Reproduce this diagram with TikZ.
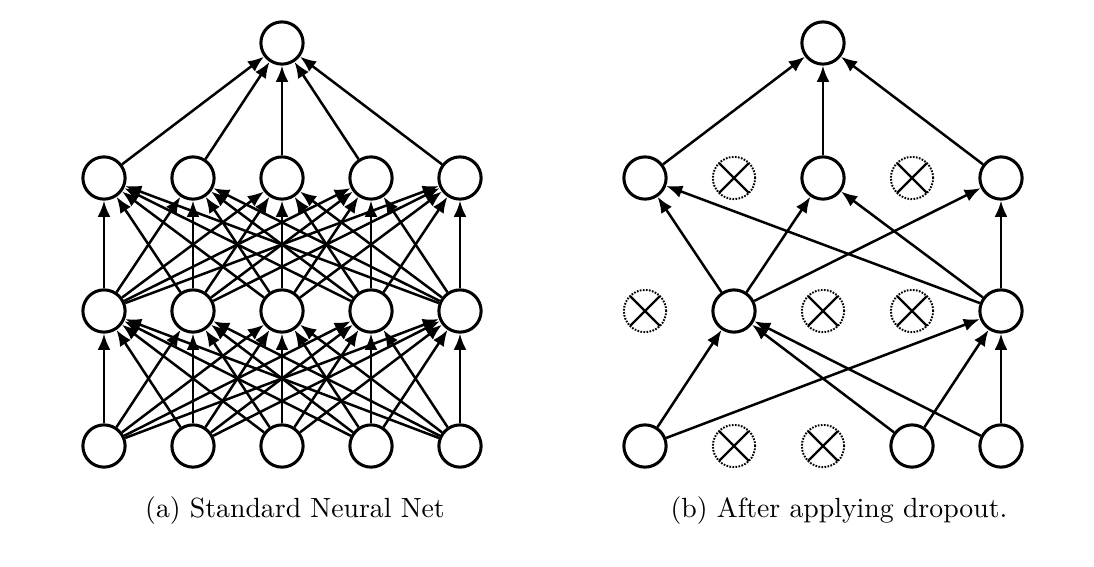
\documentclass[tikz,border=0pt]{standalone}
\usetikzlibrary{arrows.meta}

\begin{document}
\begin{tikzpicture}[x=0.36pt, y=-0.36pt,
    neuron/.style={circle, draw, line width=1.1pt, minimum size=15.2pt, inner sep=0pt, fill=white},
    dropped/.style={circle, draw, line width=0.7pt, dash pattern=on 0.6pt off 0.5pt,
        minimum size=15.2pt, inner sep=0pt, fill=white,
        path picture={
            \draw[solid, line width=0.85pt] (path picture bounding box.north west) -- (path picture bounding box.south east);
            \draw[solid, line width=0.85pt] (path picture bounding box.north east) -- (path picture bounding box.south west);
        }},
    conn/.style={-{Latex[length=5.8pt, width=4.6pt]}, line width=0.9pt}]

    \useasboundingbox (0,0) rectangle (1094,566);

    % --- (a) Standard net: all units kept ---
    \foreach \i/\x in {1/104,2/193,3/282,4/371,5/460} {
        \node[neuron] (a-in\i) at (\x,446) {};
        \node[neuron] (a-hA\i) at (\x,311) {};
        \node[neuron] (a-hB\i) at (\x,178) {};
    }
    \node[neuron] (a-out) at (282,43) {};

    % --- (a) fully connected layers ---
    \foreach \i in {1,...,5}
        \foreach \j in {1,...,5} {
            \draw[conn] (a-in\i) -- (a-hA\j);
            \draw[conn] (a-hA\i) -- (a-hB\j);
        }
    \foreach \i in {1,...,5}
        \draw[conn] (a-hB\i) -- (a-out);

    % --- (b) Thinned net: kept units ---
    \foreach \i/\x in {1/645,4/912,5/1001}
        \node[neuron] (b-in\i) at (\x,446) {};
    \foreach \i/\x in {2/734,5/1001}
        \node[neuron] (b-hA\i) at (\x,311) {};
    \foreach \i/\x in {1/645,3/823,5/1001}
        \node[neuron] (b-hB\i) at (\x,178) {};
    \node[neuron] (b-out) at (823,43) {};

    % --- (b) dropped units (crossed out) ---
    \foreach \i/\x in {2/734,3/823}
        \node[dropped] (b-in\i) at (\x,446) {};
    \foreach \i/\x in {1/645,3/823,4/912}
        \node[dropped] (b-hA\i) at (\x,311) {};
    \foreach \i/\x in {2/734,4/912}
        \node[dropped] (b-hB\i) at (\x,178) {};

    % --- (b) remaining connections ---
    \foreach \s/\t in {1/2,1/5,4/2,4/5,5/2,5/5}
        \draw[conn] (b-in\s) -- (b-hA\t);
    \foreach \s/\t in {2/1,2/3,2/5,5/1,5/3,5/5}
        \draw[conn] (b-hA\s) -- (b-hB\t);
    \foreach \s in {1,3,5}
        \draw[conn] (b-hB\s) -- (b-out);

    % --- Captions ---
    \node[anchor=base] (cap-a) at (295,517) {(a) Standard Neural Net};
    \node[anchor=base] (cap-b) at (839,517) {(b) After applying dropout.};
\end{tikzpicture}
\end{document}
